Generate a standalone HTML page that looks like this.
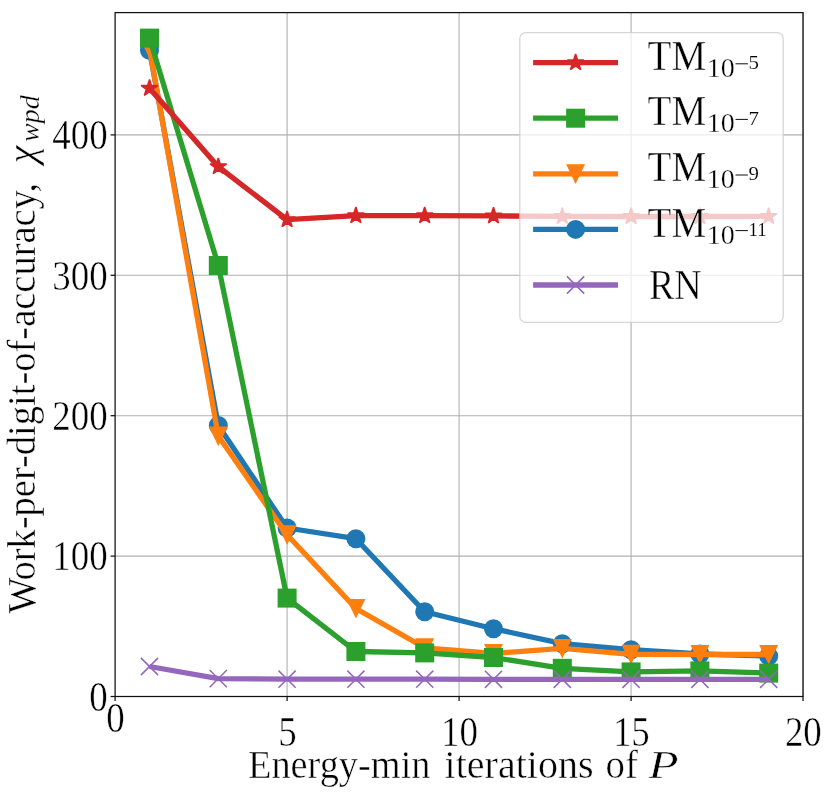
<!DOCTYPE html>
<html><head><meta charset="utf-8"><title>chart</title>
<style>
html,body{margin:0;padding:0;background:#fff;}
body{width:830px;height:794px;overflow:hidden;position:relative;font-family:"Liberation Serif",serif;}
svg{display:block;will-change:transform}
</style></head><body>
<svg width="830" height="794" viewBox="0 0 830 794" style="position:absolute;left:0;top:0">
<rect x="0" y="0" width="830" height="794" fill="#fff"/>
<line x1="287.1" y1="12.6" x2="287.1" y2="696.5" stroke="#b0b0b0" stroke-width="1.1"/>
<line x1="459.1" y1="12.6" x2="459.1" y2="696.5" stroke="#b0b0b0" stroke-width="1.1"/>
<line x1="631.1" y1="12.6" x2="631.1" y2="696.5" stroke="#b0b0b0" stroke-width="1.1"/>
<line x1="803.0" y1="12.6" x2="803.0" y2="696.5" stroke="#b0b0b0" stroke-width="1.1"/>
<line x1="115.1" y1="556.1" x2="803.05" y2="556.1" stroke="#b0b0b0" stroke-width="1.1"/>
<line x1="115.1" y1="415.7" x2="803.05" y2="415.7" stroke="#b0b0b0" stroke-width="1.1"/>
<line x1="115.1" y1="275.3" x2="803.05" y2="275.3" stroke="#b0b0b0" stroke-width="1.1"/>
<line x1="115.1" y1="134.9" x2="803.05" y2="134.9" stroke="#b0b0b0" stroke-width="1.1"/>
<clipPath id="axc"><rect x="115.1" y="12.6" width="687.9499999999999" height="683.9"/></clipPath>
<g clip-path="url(#axc)">
<polyline points="149.5,50.2 218.3,425.5 287.1,528.0 355.9,538.7 424.7,611.8 493.5,628.7 562.3,643.7 631.1,649.7 699.9,654.0 768.7,656.1" fill="none" stroke="#1f77b4" stroke-width="5.3" stroke-linejoin="round" stroke-linecap="butt"/>
<circle cx="149.5" cy="50.2" r="9.50" fill="#1f77b4"/>
<circle cx="218.3" cy="425.5" r="9.50" fill="#1f77b4"/>
<circle cx="287.1" cy="528.0" r="9.50" fill="#1f77b4"/>
<circle cx="355.9" cy="538.7" r="9.50" fill="#1f77b4"/>
<circle cx="424.7" cy="611.8" r="9.50" fill="#1f77b4"/>
<circle cx="493.5" cy="628.7" r="9.50" fill="#1f77b4"/>
<circle cx="562.3" cy="643.7" r="9.50" fill="#1f77b4"/>
<circle cx="631.1" cy="649.7" r="9.50" fill="#1f77b4"/>
<circle cx="699.9" cy="654.0" r="9.50" fill="#1f77b4"/>
<circle cx="768.7" cy="656.1" r="9.50" fill="#1f77b4"/>
<polyline points="149.5,48.5 218.3,436.1 287.1,534.8 355.9,608.5 424.7,647.8 493.5,653.5 562.3,648.4 631.1,654.3 699.9,654.5 768.7,654.5" fill="none" stroke="#ff7f0e" stroke-width="5.3" stroke-linejoin="round" stroke-linecap="butt"/>
<polygon points="140.0,39.0 159.0,39.0 149.5,58.6" fill="#ff7f0e"/>
<polygon points="208.8,426.6 227.8,426.6 218.3,446.2" fill="#ff7f0e"/>
<polygon points="277.6,525.3 296.6,525.3 287.1,544.9" fill="#ff7f0e"/>
<polygon points="346.4,599.0 365.4,599.0 355.9,618.6" fill="#ff7f0e"/>
<polygon points="415.2,638.3 434.2,638.3 424.7,657.9" fill="#ff7f0e"/>
<polygon points="484.0,644.0 503.0,644.0 493.5,663.6" fill="#ff7f0e"/>
<polygon points="552.8,638.9 571.8,638.9 562.3,658.5" fill="#ff7f0e"/>
<polygon points="621.6,644.8 640.6,644.8 631.1,664.4" fill="#ff7f0e"/>
<polygon points="690.4,645.0 709.4,645.0 699.9,664.6" fill="#ff7f0e"/>
<polygon points="759.2,645.0 778.2,645.0 768.7,664.6" fill="#ff7f0e"/>
<polyline points="149.5,38.1 218.3,265.5 287.1,598.1 355.9,651.5 424.7,652.9 493.5,657.5 562.3,668.3 631.1,671.9 699.9,670.9 768.7,673.1" fill="none" stroke="#2ca02c" stroke-width="5.3" stroke-linejoin="round" stroke-linecap="butt"/>
<rect x="140.0" y="28.6" width="19.0" height="19.0" fill="#2ca02c"/>
<rect x="208.8" y="256.0" width="19.0" height="19.0" fill="#2ca02c"/>
<rect x="277.6" y="588.6" width="19.0" height="19.0" fill="#2ca02c"/>
<rect x="346.4" y="642.0" width="19.0" height="19.0" fill="#2ca02c"/>
<rect x="415.2" y="643.4" width="19.0" height="19.0" fill="#2ca02c"/>
<rect x="484.0" y="648.0" width="19.0" height="19.0" fill="#2ca02c"/>
<rect x="552.8" y="658.8" width="19.0" height="19.0" fill="#2ca02c"/>
<rect x="621.6" y="662.4" width="19.0" height="19.0" fill="#2ca02c"/>
<rect x="690.4" y="661.4" width="19.0" height="19.0" fill="#2ca02c"/>
<rect x="759.2" y="663.6" width="19.0" height="19.0" fill="#2ca02c"/>
<polyline points="149.5,88.3 218.3,166.7 287.1,219.7 355.9,215.7 424.7,215.7 493.5,215.9 562.3,216.4 631.1,216.5 699.9,216.5 768.7,216.4" fill="none" stroke="#d62728" stroke-width="5.3" stroke-linejoin="round" stroke-linecap="butt"/>
<polygon points="149.50,79.60 151.45,85.61 157.77,85.61 152.66,89.33 154.61,95.34 149.50,91.62 144.38,95.34 146.34,89.33 141.22,85.61 147.54,85.61" fill="#d62728" stroke="#d62728" stroke-width="1.5" stroke-linejoin="bevel"/>
<polygon points="218.29,158.00 220.25,164.01 226.57,164.01 221.45,167.73 223.41,173.74 218.29,170.02 213.18,173.74 215.13,167.73 210.02,164.01 216.34,164.01" fill="#d62728" stroke="#d62728" stroke-width="1.5" stroke-linejoin="bevel"/>
<polygon points="287.09,211.00 289.04,217.01 295.36,217.01 290.25,220.73 292.20,226.74 287.09,223.02 281.97,226.74 283.93,220.73 278.81,217.01 285.13,217.01" fill="#d62728" stroke="#d62728" stroke-width="1.5" stroke-linejoin="bevel"/>
<polygon points="355.88,207.00 357.84,213.01 364.16,213.01 359.04,216.73 361.00,222.74 355.88,219.02 350.77,222.74 352.72,216.73 347.61,213.01 353.93,213.01" fill="#d62728" stroke="#d62728" stroke-width="1.5" stroke-linejoin="bevel"/>
<polygon points="424.68,207.00 426.63,213.01 432.95,213.01 427.84,216.73 429.79,222.74 424.68,219.02 419.56,222.74 421.52,216.73 416.40,213.01 422.72,213.01" fill="#d62728" stroke="#d62728" stroke-width="1.5" stroke-linejoin="bevel"/>
<polygon points="493.47,207.20 495.43,213.21 501.75,213.21 496.63,216.93 498.59,222.94 493.47,219.22 488.36,222.94 490.31,216.93 485.20,213.21 491.52,213.21" fill="#d62728" stroke="#d62728" stroke-width="1.5" stroke-linejoin="bevel"/>
<polygon points="562.27,207.70 564.22,213.71 570.54,213.71 565.43,217.43 567.38,223.44 562.27,219.72 557.15,223.44 559.11,217.43 553.99,213.71 560.31,213.71" fill="#d62728" stroke="#d62728" stroke-width="1.5" stroke-linejoin="bevel"/>
<polygon points="631.06,207.80 633.02,213.81 639.34,213.81 634.22,217.53 636.18,223.54 631.06,219.82 625.95,223.54 627.90,217.53 622.79,213.81 629.11,213.81" fill="#d62728" stroke="#d62728" stroke-width="1.5" stroke-linejoin="bevel"/>
<polygon points="699.86,207.80 701.81,213.81 708.13,213.81 703.02,217.53 704.97,223.54 699.86,219.82 694.74,223.54 696.70,217.53 691.58,213.81 697.90,213.81" fill="#d62728" stroke="#d62728" stroke-width="1.5" stroke-linejoin="bevel"/>
<polygon points="768.65,207.70 770.61,213.71 776.93,213.71 771.81,217.43 773.77,223.44 768.65,219.72 763.54,223.44 765.49,217.43 760.38,213.71 766.70,213.71" fill="#d62728" stroke="#d62728" stroke-width="1.5" stroke-linejoin="bevel"/>
<polyline points="149.5,666.5 218.3,678.6 287.1,679.2 355.9,679.2 424.7,679.2 493.5,679.3 562.3,679.3 631.1,679.3 699.9,679.3 768.7,679.3" fill="none" stroke="#9467bd" stroke-width="5.3" stroke-linejoin="round" stroke-linecap="butt"/>
<path d="M140.9,657.9L158.1,675.1M140.9,675.1L158.1,657.9" stroke="#9467bd" stroke-width="1.5" fill="none"/>
<path d="M209.7,670.0L226.9,687.2M209.7,687.2L226.9,670.0" stroke="#9467bd" stroke-width="1.5" fill="none"/>
<path d="M278.5,670.6L295.7,687.8M278.5,687.8L295.7,670.6" stroke="#9467bd" stroke-width="1.5" fill="none"/>
<path d="M347.3,670.6L364.5,687.8M347.3,687.8L364.5,670.6" stroke="#9467bd" stroke-width="1.5" fill="none"/>
<path d="M416.1,670.6L433.3,687.8M416.1,687.8L433.3,670.6" stroke="#9467bd" stroke-width="1.5" fill="none"/>
<path d="M484.9,670.7L502.1,687.9M484.9,687.9L502.1,670.7" stroke="#9467bd" stroke-width="1.5" fill="none"/>
<path d="M553.7,670.7L570.9,687.9M553.7,687.9L570.9,670.7" stroke="#9467bd" stroke-width="1.5" fill="none"/>
<path d="M622.5,670.7L639.7,687.9M622.5,687.9L639.7,670.7" stroke="#9467bd" stroke-width="1.5" fill="none"/>
<path d="M691.3,670.7L708.5,687.9M691.3,687.9L708.5,670.7" stroke="#9467bd" stroke-width="1.5" fill="none"/>
<path d="M760.1,670.7L777.3,687.9M760.1,687.9L777.3,670.7" stroke="#9467bd" stroke-width="1.5" fill="none"/>
</g>
<rect x="115.1" y="12.6" width="687.9499999999999" height="683.9" fill="none" stroke="#111" stroke-width="1.25"/>
<line x1="115.1" y1="696.5" x2="115.1" y2="701.0" stroke="#111" stroke-width="1.25"/>
<line x1="287.1" y1="696.5" x2="287.1" y2="701.0" stroke="#111" stroke-width="1.25"/>
<line x1="459.1" y1="696.5" x2="459.1" y2="701.0" stroke="#111" stroke-width="1.25"/>
<line x1="631.1" y1="696.5" x2="631.1" y2="701.0" stroke="#111" stroke-width="1.25"/>
<line x1="803.0" y1="696.5" x2="803.0" y2="701.0" stroke="#111" stroke-width="1.25"/>
<line x1="110.6" y1="696.5" x2="115.1" y2="696.5" stroke="#111" stroke-width="1.25"/>
<line x1="110.6" y1="556.1" x2="115.1" y2="556.1" stroke="#111" stroke-width="1.25"/>
<line x1="110.6" y1="415.7" x2="115.1" y2="415.7" stroke="#111" stroke-width="1.25"/>
<line x1="110.6" y1="275.3" x2="115.1" y2="275.3" stroke="#111" stroke-width="1.25"/>
<line x1="110.6" y1="134.9" x2="115.1" y2="134.9" stroke="#111" stroke-width="1.25"/>
<rect x="519.8" y="32.6" width="263.4" height="289.8" rx="6" ry="6" fill="#fff" fill-opacity="0.75" stroke="#ccc" stroke-opacity="0.8" stroke-width="1.3"/>
<line x1="533.1" y1="62.6" x2="618.0" y2="62.6" stroke="#d62728" stroke-width="5.3"/>
<polygon points="575.60,53.90 577.55,59.91 583.87,59.91 578.76,63.63 580.71,69.64 575.60,65.92 570.49,69.64 572.44,63.63 567.33,59.91 573.65,59.91" fill="#d62728" stroke="#d62728" stroke-width="1.5" stroke-linejoin="bevel"/>
<line x1="533.1" y1="118.2" x2="618.0" y2="118.2" stroke="#2ca02c" stroke-width="5.3"/>
<rect x="566.1" y="108.7" width="19.0" height="19.0" fill="#2ca02c"/>
<line x1="533.1" y1="173.8" x2="618.0" y2="173.8" stroke="#ff7f0e" stroke-width="5.3"/>
<polygon points="566.1,164.3 585.1,164.3 575.6,183.9" fill="#ff7f0e"/>
<line x1="533.1" y1="229.4" x2="618.0" y2="229.4" stroke="#1f77b4" stroke-width="5.3"/>
<circle cx="575.6" cy="229.4" r="9.50" fill="#1f77b4"/>
<line x1="533.1" y1="285.0" x2="618.0" y2="285.0" stroke="#9467bd" stroke-width="5.3"/>
<path d="M567.0,276.4L584.2,293.6M567.0,293.6L584.2,276.4" stroke="#9467bd" stroke-width="1.5" fill="none"/>
<text id="yt0" transform="translate(107.60,710.80) scale(0.9000,1.0300)" font-size="41" text-anchor="end" font-family="Liberation Serif, serif" fill="#000" stroke="#fff" stroke-width="0.45" >0</text>
<text id="yt100" transform="translate(107.60,570.40) scale(0.9000,1.0300)" font-size="41" text-anchor="end" font-family="Liberation Serif, serif" fill="#000" stroke="#fff" stroke-width="0.45" >100</text>
<text id="yt200" transform="translate(107.60,430.00) scale(0.9000,1.0300)" font-size="41" text-anchor="end" font-family="Liberation Serif, serif" fill="#000" stroke="#fff" stroke-width="0.45" >200</text>
<text id="yt300" transform="translate(107.60,289.60) scale(0.9000,1.0300)" font-size="41" text-anchor="end" font-family="Liberation Serif, serif" fill="#000" stroke="#fff" stroke-width="0.45" >300</text>
<text id="yt400" transform="translate(107.60,149.20) scale(0.9000,1.0300)" font-size="41" text-anchor="end" font-family="Liberation Serif, serif" fill="#000" stroke="#fff" stroke-width="0.45" >400</text>
<text id="xt0" transform="translate(115.40,732.00) scale(0.9000,1.0300)" font-size="41" text-anchor="middle" font-family="Liberation Serif, serif" fill="#000" stroke="#fff" stroke-width="0.45" >0</text>
<text id="xt5" transform="translate(287.39,745.50) scale(0.9000,1.0300)" font-size="41" text-anchor="middle" font-family="Liberation Serif, serif" fill="#000" stroke="#fff" stroke-width="0.45" >5</text>
<text id="xt10" transform="translate(459.37,745.50) scale(0.9000,1.0300)" font-size="41" text-anchor="middle" font-family="Liberation Serif, serif" fill="#000" stroke="#fff" stroke-width="0.45" >10</text>
<text id="xt15" transform="translate(631.36,745.50) scale(0.9000,1.0300)" font-size="41" text-anchor="middle" font-family="Liberation Serif, serif" fill="#000" stroke="#fff" stroke-width="0.45" >15</text>
<text id="xt20" transform="translate(803.35,745.50) scale(0.9000,1.0300)" font-size="41" text-anchor="middle" font-family="Liberation Serif, serif" fill="#000" stroke="#fff" stroke-width="0.45" >20</text>
<text id="xl0" transform="translate(248.00,778.10) scale(0.9590,1.0000)" font-size="40" text-anchor="start" font-family="Liberation Serif, serif" fill="#000" stroke="#fff" stroke-width="0.45" >Energy-min</text>
<text id="xl1" transform="translate(444.60,778.10) scale(1.0000,1.0000)" font-size="40" text-anchor="start" font-family="Liberation Serif, serif" fill="#000" stroke="#fff" stroke-width="0.45" >iterations</text>
<text id="xl2" transform="translate(605.50,778.10) scale(0.9700,1.0000)" font-size="40" text-anchor="start" font-family="Liberation Serif, serif" fill="#000" stroke="#fff" stroke-width="0.45" >of</text>
<text id="xl3" transform="translate(648.50,778.10) scale(1.2300,1.0000)" font-size="40" text-anchor="start" font-family="Liberation Serif, serif" fill="#000" stroke="#fff" stroke-width="0.45" font-style="italic">P</text>
<text id="yl0" transform="translate(34.50,613.80) rotate(-90) scale(0.9630,1.0000)" font-size="40" text-anchor="start" font-family="Liberation Serif, serif" fill="#000" stroke="#fff" stroke-width="0.45" >Work-per-digit-of-accuracy,</text>
<text id="yl1" transform="translate(34.50,163.30) rotate(-90) scale(1.0000,1.0000)" font-size="40" text-anchor="start" font-family="Liberation Serif, serif" fill="#000" stroke="#fff" stroke-width="0.45" font-style="italic">χ</text>
<text id="yl2" transform="translate(38.70,142.00) rotate(-90) scale(1.0000,1.0000)" font-size="28" text-anchor="start" font-family="Liberation Serif, serif" fill="#000" stroke="#fff" stroke-width="0.3" font-style="italic">wpd</text>
<text id="lg0" transform="translate(647.60,69.70) scale(0.9300,1.0000)" font-size="42" text-anchor="start" font-family="Liberation Serif, serif" fill="#000" stroke="#fff" stroke-width="0.45" >TM</text>
<text id="lgs0" transform="translate(706.80,76.70) scale(1.0000,1.0000)" font-size="28" text-anchor="start" font-family="Liberation Serif, serif" fill="#000" stroke="#fff" stroke-width="0.3" >10</text>
<line x1="735.5" y1="63.80" x2="747.9" y2="63.80" stroke="#000" stroke-width="0.95"/>
<text id="lge0" transform="translate(748.60,69.10) scale(1.0700,1.0000)" font-size="19.5" text-anchor="start" font-family="Liberation Serif, serif" fill="#000" stroke="#fff" stroke-width="0.12" >5</text>
<text id="lg1" transform="translate(647.60,125.30) scale(0.9300,1.0000)" font-size="42" text-anchor="start" font-family="Liberation Serif, serif" fill="#000" stroke="#fff" stroke-width="0.45" >TM</text>
<text id="lgs1" transform="translate(706.80,132.30) scale(1.0000,1.0000)" font-size="28" text-anchor="start" font-family="Liberation Serif, serif" fill="#000" stroke="#fff" stroke-width="0.3" >10</text>
<line x1="735.5" y1="119.40" x2="747.9" y2="119.40" stroke="#000" stroke-width="0.95"/>
<text id="lge1" transform="translate(748.60,124.70) scale(1.0700,1.0000)" font-size="19.5" text-anchor="start" font-family="Liberation Serif, serif" fill="#000" stroke="#fff" stroke-width="0.12" >7</text>
<text id="lg2" transform="translate(647.60,180.90) scale(0.9300,1.0000)" font-size="42" text-anchor="start" font-family="Liberation Serif, serif" fill="#000" stroke="#fff" stroke-width="0.45" >TM</text>
<text id="lgs2" transform="translate(706.80,187.90) scale(1.0000,1.0000)" font-size="28" text-anchor="start" font-family="Liberation Serif, serif" fill="#000" stroke="#fff" stroke-width="0.3" >10</text>
<line x1="735.5" y1="175.00" x2="747.9" y2="175.00" stroke="#000" stroke-width="0.95"/>
<text id="lge2" transform="translate(748.60,180.30) scale(1.0700,1.0000)" font-size="19.5" text-anchor="start" font-family="Liberation Serif, serif" fill="#000" stroke="#fff" stroke-width="0.12" >9</text>
<text id="lg3" transform="translate(647.60,236.50) scale(0.9300,1.0000)" font-size="42" text-anchor="start" font-family="Liberation Serif, serif" fill="#000" stroke="#fff" stroke-width="0.45" >TM</text>
<text id="lgs3" transform="translate(706.80,243.50) scale(1.0000,1.0000)" font-size="28" text-anchor="start" font-family="Liberation Serif, serif" fill="#000" stroke="#fff" stroke-width="0.3" >10</text>
<line x1="735.5" y1="230.60" x2="747.9" y2="230.60" stroke="#000" stroke-width="0.95"/>
<text id="lge3" transform="translate(748.60,235.90) scale(0.9700,1.0000)" font-size="19.5" text-anchor="start" font-family="Liberation Serif, serif" fill="#000" stroke="#fff" stroke-width="0.12" >11</text>
<text id="lg4" transform="translate(648.90,299.40) scale(0.9050,1.0000)" font-size="42" text-anchor="start" font-family="Liberation Serif, serif" fill="#000" stroke="#fff" stroke-width="0.45" >RN</text>
</svg>
</body></html>
